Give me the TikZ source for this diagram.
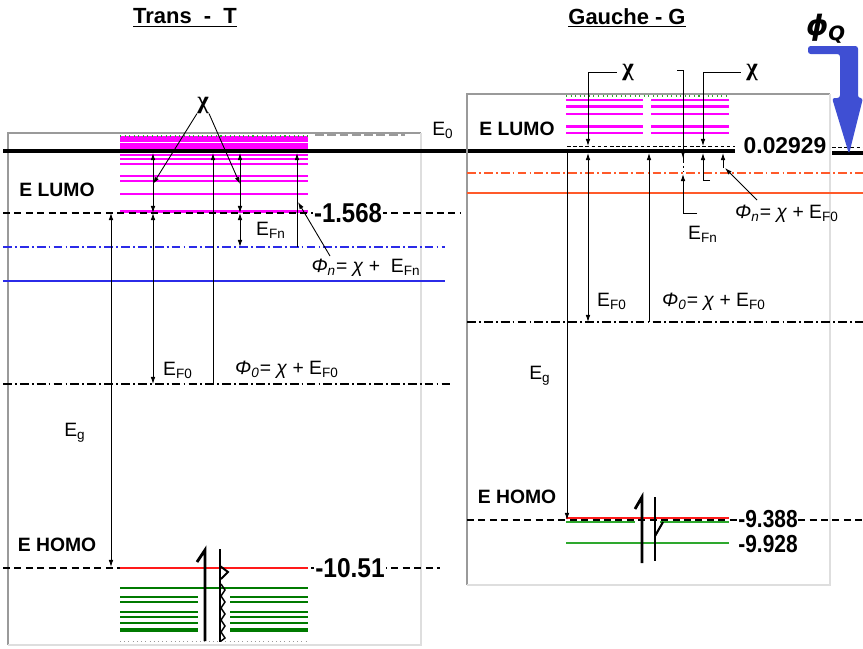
\documentclass[tikz,border=0pt]{standalone}
\usepackage{fontspec}
\setmainfont{Liberation Sans}
\newfontfamily\chifont{Liberation Serif}
\newfontfamily\phifont{DejaVu Sans}
\usetikzlibrary{arrows.meta}
\definecolor{bandM}{HTML}{FF00FF}
\definecolor{homoG}{HTML}{007A00}
\definecolor{homoGl}{HTML}{2EA82E}
\definecolor{homoR}{HTML}{FF1A1A}
\definecolor{fermiB}{HTML}{2B2BE8}
\definecolor{fermiO}{HTML}{FF5A2A}
\definecolor{phiQ}{HTML}{3F4FD3}
\definecolor{frameD}{HTML}{9A9A9A}
\definecolor{frameL}{HTML}{DEDEDE}
\newcommand{\narrowtxt}[2][0.88]{\scalebox{#1}[1]{#2}}

\begin{document}
\begin{tikzpicture}[x=0.02cm, y=-0.02cm,
    every node/.style={inner sep=0pt, font=\fontsize{11}{13}\selectfont},
    arr/.style={-{Latex[length=4pt,width=2.6pt]}, line width=0.5pt},
    darr/.style={{Latex[length=4pt,width=2.6pt]}-{Latex[length=4pt,width=2.6pt]}, line width=0.5pt},
    band/.style={bandM, line width=1.3pt},
    lvl/.style={line width=0.7pt},
    dashlvl/.style={lvl, dash pattern=on 4pt off 2.5pt},
    dotlvl/.style={lvl, dash pattern=on 5pt off 1.8pt on 1pt off 1.8pt},
    spin/.style={line width=1.6pt},
    ttl/.style={font=\fontsize{12.5}{14}\selectfont\bfseries},
    orb/.style={font=\fontsize{11}{13}\selectfont\bfseries},
    energy/.style={font=\fontsize{15.5}{16}\selectfont\bfseries, fill=white, inner sep=0.6pt},
    chi/.style={font=\fontsize{14}{15}\selectfont\chifont\bfseries}
]
\useasboundingbox (0,0) rectangle (863,649);

% ---- TRANS (left) ----
\node[ttl] (ttrans) at (185,18) {\underline{Trans\ \ -\ \ T}};
\draw[frameD, line width=1.6pt] (8,645) -- (8,133) -- (421,133);
\draw[frameL, line width=0.8pt] (421,133) -- (421,645) -- (8,645);

\fill[bandM] (120,136) rectangle (308,150);
\draw[white, line width=0.5pt] (120,142.5) -- (308,142.5);
\draw[homoGl, dotted, line width=0.6pt] (120,136) -- (308,136);
\draw[frameD, dash pattern=on 5pt off 2pt, line width=1pt] (315,135) -- (405,135);
\foreach \y in {155,159,164,176,181,194,211.5}
  \draw[band] (120,\y) -- (308,\y);

% E0 across both
\draw[line width=2.3pt] (3,151) -- (735,151);
\node (e0) at (443,130) {E\textsubscript{0}};

\draw[dashlvl] (3,213) -- (460,213);
\draw[fermiB, dotlvl] (3,247) -- (445,247);
\draw[fermiB, lvl] (3,281) -- (445,281);
\draw[dotlvl] (3,384) -- (452,384);
\draw[dashlvl] (3,568) -- (440,568);
\draw[homoR, line width=1.2pt] (120,568) -- (308,568);
\draw[homoG, line width=0.6pt] (198,588) -- (230,588);
\foreach \y/\w in {588/1.5,597/1,602/1.5,612/1.5,617/1,623/1.5,630/2.6}
  \draw[homoG, line width=\w pt] (120,\y) -- (198,\y) (230,\y) -- (308,\y);
\draw[frameD, dotted] (120,641) -- (308,641);

% spins
\draw[spin] (197,562) -- (205,550) -- (205,641);
\draw[spin] (220,549) -- (220,642);
\draw[line width=1.1pt] (220,566) -- (228,572) -- (221,579);
\draw[line width=0.8pt] (221,584) -- (225,590) -- (221,596) -- (225,602) -- (221,608) -- (225,614)
  -- (221,620) -- (225,626) -- (221,632) -- (225,638) -- (221,641);

\node[energy] (tlumov) at (348,213) {\narrowtxt{-1.568}};
\node[energy] (thomov) at (350,568) {\narrowtxt[0.9]{-10.51}};

% columns: e0 / lumo / fermi n / fermi 0 / homo
\foreach \x/\n in {111/eg,153/a,213/p,240/b,297/n} {
  \coordinate (t\n-e0) at (\x,153);
  \coordinate (t\n-lu) at (\x,213);
  \coordinate (t\n-fn) at (\x,247);
  \coordinate (t\n-f0) at (\x,384);
  \coordinate (t\n-ho) at (\x,567);
}
\node[chi] (tchi) at (203,105) {χ};
\coordinate (tchiA) at (153,184);
\coordinate (tchiB) at (240,184);
\draw[arr] (tchi.south west) -- (tchiA);
\draw[arr] (tchi.south east) -- (tchiB);
\draw[darr] (ta-e0) -- (ta-lu);
\draw[darr] (ta-lu) -- (ta-f0);
\draw[darr] (tb-e0) -- (tb-lu);
\draw[darr] (tb-lu) -- (tb-fn);
\draw[arr] (tp-f0) -- (tp-e0);
\draw[arr] (tn-fn) -- (tn-e0);
\draw[darr] (teg-lu) -- (teg-ho);

\node[orb] (tlumo) at (57,190) {E LUMO};
\node[orb] (thomo) at (57,545) {E HOMO};
\node (tefn) at (271,230) {E\textsubscript{Fn}};
\node (tphin) at (366,268) {\textit{Φ}\textsubscript{\textit{n}}= \textit{χ} + \ E\textsubscript{Fn}};
\node (tef0) at (178,370) {E\textsubscript{F0}};
\node (tphi0) at (287,370) {\textit{Φ}\textsubscript{\textit{0}}= \textit{χ} + E\textsubscript{F0}};
\node (teg) at (75,433) {E\textsubscript{g}};
\coordinate (tphinC) at (330,256);
\coordinate (tphinT) at (298,202);
\draw[arr] (tphinC) -- (tphinT);

% ---- GAUCHE (right) ----
\node[ttl] (tgauche) at (627,18) {\underline{Gauche - G}};
\draw[frameD, line width=1.6pt] (467,585) -- (467,94) -- (830,94);
\draw[frameL, line width=0.8pt] (830,94) -- (830,585) -- (467,585);

\draw[homoGl, dotted, line width=0.6pt] (566,96) -- (729,96);
\foreach \y in {100,106.5,114,126.5,133}
  \draw[band] (566,\y) -- (643,\y) (651,\y) -- (729,\y);
\draw[line width=0.5pt, dash pattern=on 2pt off 1.5pt] (567,146) -- (735,146);
\draw[line width=0.5pt, dash pattern=on 2pt off 1.5pt] (832,147) -- (863,147);
\draw[line width=2.3pt] (832,153) -- (863,153);
\node[font=\fontsize{13}{14}\selectfont\bfseries] (glumov) at (785,146) {0.02929};

\draw[fermiO, dotlvl] (467,173) -- (863,173);
\draw[fermiO, lvl] (467,193) -- (863,193);
\draw[dotlvl] (467,322) -- (863,322);
\draw[dashlvl] (467,520) -- (863,520);
\draw[homoR, line width=1.2pt] (566,518) -- (729,518);
\draw[homoGl, line width=1.2pt] (566,522) -- (635,522) (660,522) -- (729,522);
\draw[homoGl, line width=1.2pt] (566,543) -- (729,543);

% spins
\draw[spin] (635,509) -- (642,497) -- (642,563);
\draw[spin] (655,497) -- (655,561);
\draw[line width=1.2pt] (655,536) -- (663,522);

\node[energy, font=\fontsize{14}{15}\selectfont\bfseries, inner sep=0.3pt] (ghomov) at (768,519) {\narrowtxt[0.85]{-9.388}};
\node[energy, font=\fontsize{14}{15}\selectfont\bfseries, inner sep=0.3pt] (ghomov2) at (768,544) {\narrowtxt[0.85]{-9.928}};

\foreach \x/\n in {567/eg,588/a,649/p,683/m,703/c,723/r} {
  \coordinate (g\n-lu) at (\x,146);
  \coordinate (g\n-e0) at (\x,153);
  \coordinate (g\n-fn) at (\x,174);
  \coordinate (g\n-f0) at (\x,322);
  \coordinate (g\n-ho) at (\x,520);
}
\node[chi] (gchiL) at (628,72) {χ};
\node[chi] (gchiR) at (752,72) {χ};
\coordinate (gmidT) at (677,70);
\coordinate (gefnC) at (697,213);
\coordinate (gcC) at (710,180);
\coordinate (grB) at (723,168);
\coordinate (gphinC) at (757,200);
\coordinate (gphinT) at (725,168);

\draw[arr] ([xshift=-3pt]gchiL.west) -| (ga-lu);
\draw[arr] ([xshift=-3pt]gchiR.west) -| (gc-lu);
\draw[arr] (gmidT) -| ([yshift=-3pt]gm-e0);
\draw[dotlvl, line width=0.5pt] (683,154) -- (683,171);
\draw[arr] (gefnC) -| (gm-fn);
\draw[arr] (gcC) -| (gc-e0);
\draw[arr] (grB) -- (gr-e0);
\draw[arr] (gphinC) -- (gphinT);
\draw[arr] ([yshift=2pt]geg-e0) -- (geg-ho);
\draw[darr] (ga-e0) -- (ga-f0);
\draw[arr] (gp-f0) -- (gp-e0);

\node[orb] (glumo) at (517,129) {E LUMO};
\node[orb] (ghomo) at (517,497) {E HOMO};
\node (gefn) at (703,234) {E\textsubscript{Fn}};
\node (gphin) at (787,214) {\textit{Φ}\textsubscript{\textit{n}}= \textit{χ} + E\textsubscript{F0}};
\node (gef0) at (612,301) {E\textsubscript{F0}};
\node (gphi0) at (714,302) {\textit{Φ}\textsubscript{\textit{0}}= \textit{χ} + E\textsubscript{F0}};
\node (geg) at (540,376) {E\textsubscript{g}};

% phi_Q arrow
\node[font=\fontsize{16}{18}\selectfont\phifont\bfseries\itshape] (gphiq) at (826,29) {ϕ\textsubscript{Q}};
\fill[phiQ, rounded corners=1.5pt] (808,46) -- (858,46) -- (858,98) -- (863,98) -- (849,154)
  -- (832,98) -- (840,98) -- (840,54) -- (808,54) -- cycle;
\end{tikzpicture}
\end{document}
